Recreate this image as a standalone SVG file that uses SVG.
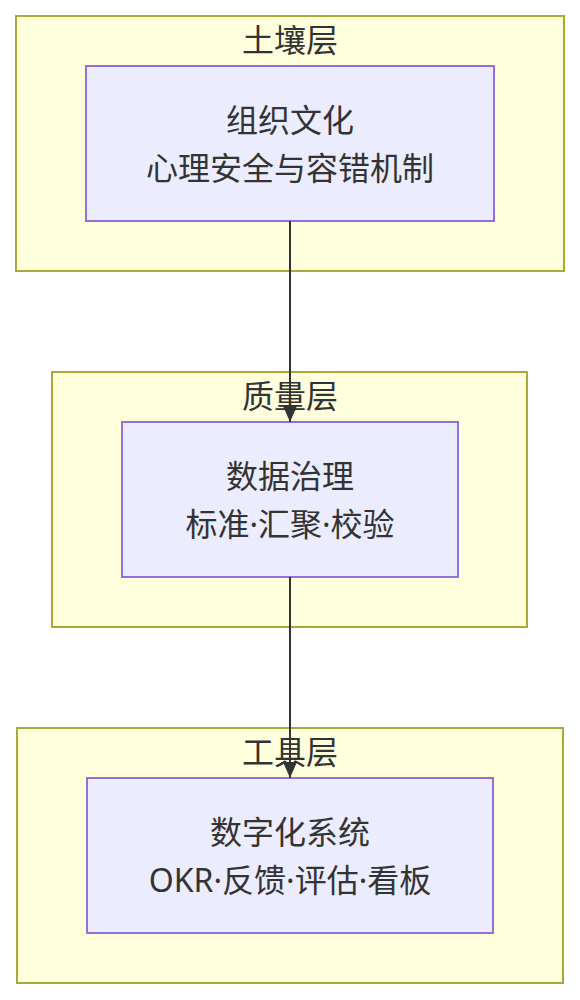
<svg xmlns="http://www.w3.org/2000/svg" width="580" height="1000" viewBox="0 0 580 1000">
<style>
  .cluster rect { fill: #ffffde; stroke: #aaaa33; stroke-width: 2; }
  .node rect { fill: #ECECFF; stroke: #9370DB; stroke-width: 2; }
  text { font-family: "Noto Sans", "Noto Sans CJK SC", sans-serif; font-size: 32px; fill: #333333; text-anchor: middle; }
  .edge { stroke: #333333; stroke-width: 2; fill: none; }
</style>
<defs>
  <marker id="arrow" markerUnits="userSpaceOnUse" viewBox="0 0 16 14" refX="16" refY="7" markerWidth="16" markerHeight="14" orient="auto">
    <path d="M0,0 L16,7 L0,14 z" fill="#333333"/>
  </marker>
</defs>
<rect width="580" height="1000" fill="#ffffff"/>
<g id="cluster-soil" class="cluster">
  <rect x="16" y="16" width="548" height="255"/>
  <text x="290" y="52">土壤层</text>
</g>
<g id="cluster-quality" class="cluster">
  <rect x="52" y="372" width="475" height="255"/>
  <text x="290" y="408">质量层</text>
</g>
<g id="cluster-tools" class="cluster">
  <rect x="17" y="728" width="546" height="255"/>
  <text x="290" y="764">工具层</text>
</g>
<g id="node-culture" class="node">
  <rect x="86" y="66" width="408" height="155"/>
  <text x="290" y="132">组织文化</text>
  <text x="290" y="180">心理安全与容错机制</text>
</g>
<g id="node-data" class="node">
  <rect x="122" y="422" width="336" height="155"/>
  <text x="290" y="488">数据治理</text>
  <text x="290" y="536">标准·汇聚·校验</text>
</g>
<g id="node-digital" class="node">
  <rect x="87" y="778" width="406" height="155"/>
  <text x="290" y="844">数字化系统</text>
  <text x="290" y="892">OKR·反馈·评估·看板</text>
</g>
<g id="connectors">
  <path class="edge" d="M290,221 L290,422" marker-end="url(#arrow)"/>
  <path class="edge" d="M290,577 L290,778" marker-end="url(#arrow)"/>
</g>
</svg>
